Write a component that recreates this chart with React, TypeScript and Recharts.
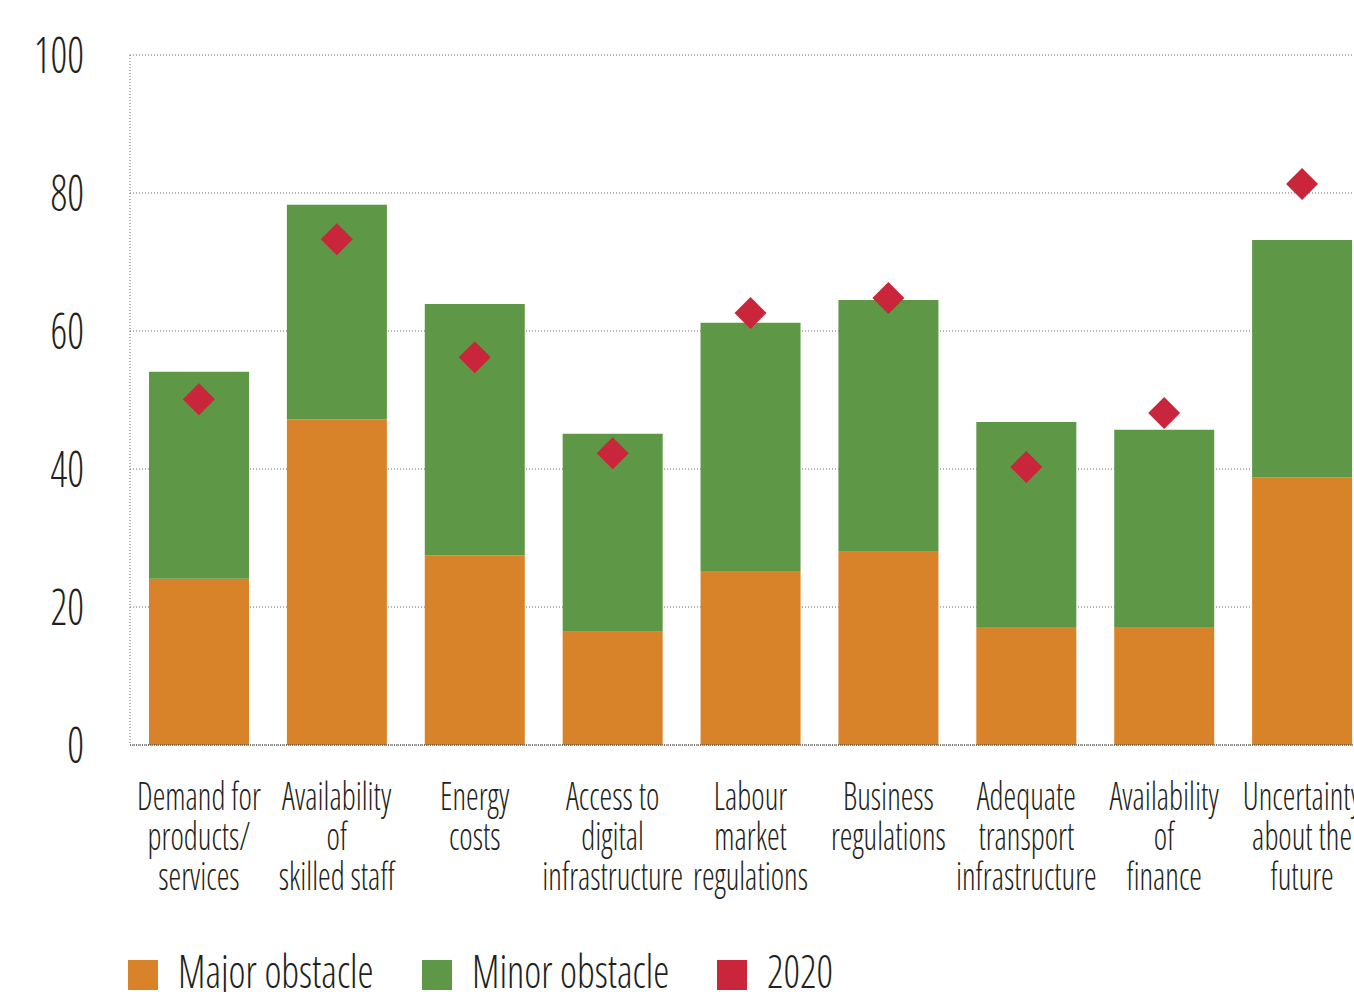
import React from 'react';
import { ComposedChart, Bar, Line, XAxis, YAxis, CartesianGrid, Legend } from 'recharts';

// Obstacles to investment, share of firms (%)
const categories = [
  'Demand for\nproducts/\nservices',
  'Availability\nof\nskilled staff',
  'Energy\ncosts',
  'Access to\ndigital\ninfrastructure',
  'Labour\nmarket\nregulations',
  'Business\nregulations',
  'Adequate\ntransport\ninfrastructure',
  'Availability\nof\nfinance',
  'Uncertainty\nabout the\nfuture',
];
const majorObstacle = [24.1, 47.2, 27.5, 16.4, 25.2, 28.0, 17.1, 17.1, 38.8];
const minorObstacle = [30.0, 31.1, 36.4, 28.7, 36.0, 36.5, 29.7, 28.6, 34.4];
const survey2020 = [50.1, 73.3, 56.2, 42.3, 62.6, 64.8, 40.3, 48.1, 81.3];
const yTicks = [0, 20, 40, 60, 80, 100];
const legendLabels = ['Major obstacle', 'Minor obstacle', '2020'];

const COLORS = { major: '#D8832A', minor: '#5E9745', y2020: '#C9253B' };
const legendColors = [COLORS.major, COLORS.minor, COLORS.y2020];
const FONT = "'Open Sans', 'DejaVu Sans Condensed', sans-serif";
const TEXT = '#231f20';
const textStyle: React.CSSProperties = { fontStretch: 'condensed' };

const data = categories.map((name, i) => ({
  name,
  major: majorObstacle[i],
  minor: minorObstacle[i],
  y2020: survey2020[i],
}));

const CategoryTick = (props: any) => {
  const { x, y, payload } = props;
  const lines: string[] = String(payload.value).split('\n');
  return (
    <g transform={`translate(${x},${y})`}>
      <g transform="scale(0.84,1)">
        <text textAnchor="middle" fontSize={38} fontWeight={300} fill={TEXT} fontFamily={FONT} style={textStyle}>
          {lines.map((l, i) => (
            <tspan key={i} x={0} y={65 + i * 40}>
              {l}
            </tspan>
          ))}
        </text>
      </g>
    </g>
  );
};

const ValueTick = (props: any) => {
  const { x, y, payload } = props;
  return (
    <g transform={`translate(${x - 46},${y})`}>
      <g transform="scale(0.84,1)">
        <text textAnchor="end" fontSize={49} fontWeight={300} fill={TEXT} fontFamily={FONT} style={textStyle} y={17.5}>
          {payload.value}
        </text>
      </g>
    </g>
  );
};

const Diamond = (props: any) => {
  const { cx, cy } = props;
  if (cx == null || cy == null) return null;
  const r = 16;
  return (
    <path
      d={`M${cx},${cy - r} L${cx + r},${cy} L${cx},${cy + r} L${cx - r},${cy} Z`}
      fill={COLORS.y2020}
    />
  );
};

const legendSlots = [128, 422, 717];

const LegendContent = () => (
  <svg width={900} height={60} style={{ display: 'block' }}>
    {legendLabels.map((label, i) => (
      <g key={label}>
        <rect x={legendSlots[i]} y={10} width={30} height={30} fill={legendColors[i]} />
        <g transform={`translate(${legendSlots[i] + 50},38) scale(0.88,1)`}>
          <text fontSize={46} fontWeight={300} fill={TEXT} fontFamily={FONT} style={textStyle}>
            {label}
          </text>
        </g>
      </g>
    ))}
  </svg>
);

export default function App() {
  return (
    <div
      style={{
        position: 'absolute',
        left: 0,
        top: 0,
        width: 1354,
        height: 992,
        overflow: 'hidden',
        background: '#fff',
      }}
    >
      <ComposedChart
        width={1371}
        height={1010}
        data={data}
        margin={{ top: 55, right: 0, bottom: 0, left: 0 }}
      >
        <CartesianGrid vertical={false} stroke="#666" strokeDasharray="1 2" />
        <XAxis
          dataKey="name"
          interval={0}
          height={205}
          tick={<CategoryTick />}
          tickLine={false}
          tickSize={0}
          tickMargin={0}
          axisLine={{ stroke: '#333', strokeDasharray: '1 1' }}
        />
        <YAxis
          width={130}
          domain={[0, 100]}
          ticks={yTicks}
          tick={<ValueTick />}
          tickLine={false}
          tickSize={0}
          tickMargin={0}
          axisLine={{ stroke: '#666', strokeDasharray: '1 2' }}
        />
        <Legend verticalAlign="bottom" content={<LegendContent />} wrapperStyle={{ left: 0, width: 900 }} />
        <Bar dataKey="major" stackId="a" fill={COLORS.major} barSize={100} isAnimationActive={false} />
        <Bar dataKey="minor" stackId="a" fill={COLORS.minor} barSize={100} isAnimationActive={false} />
        <Line
          dataKey="y2020"
          stroke="none"
          dot={<Diamond />}
          activeDot={false}
          legendType="none"
          isAnimationActive={false}
        />
      </ComposedChart>
    </div>
  );
}
